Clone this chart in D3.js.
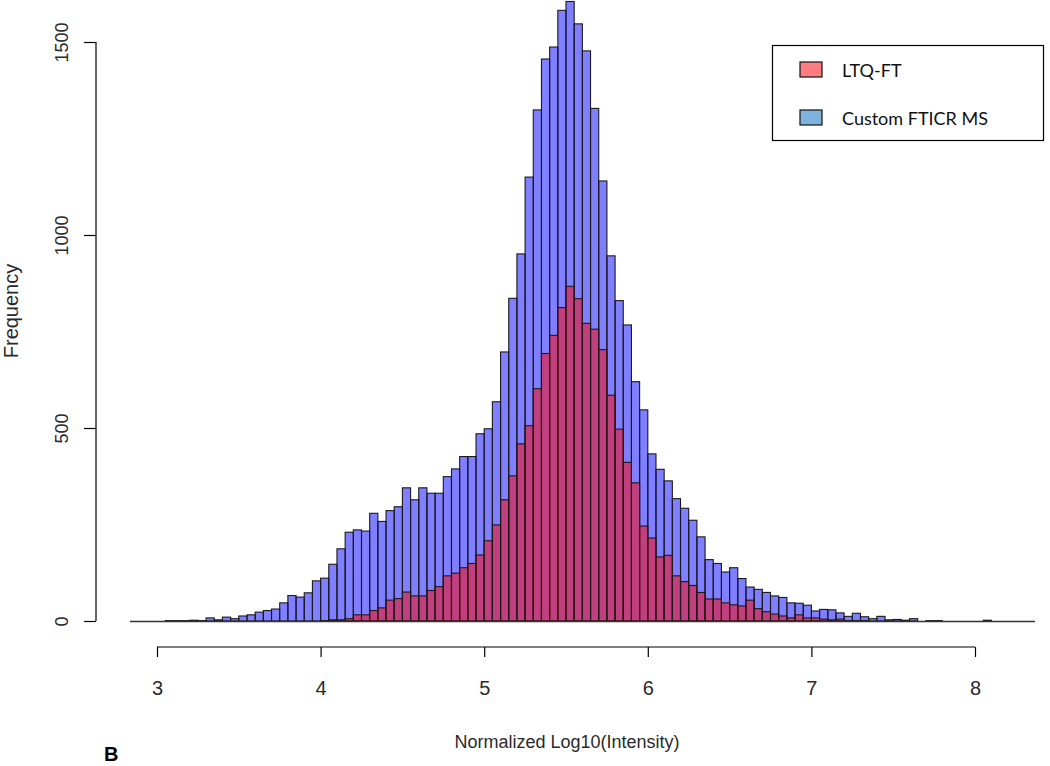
<!DOCTYPE html>
<html><head><meta charset="utf-8">
<script src="https://cdn.jsdelivr.net/npm/d3@7"></script>
<style>body{margin:0;background:#fff}svg{display:block}</style>
</head><body>
<svg id="c" width="1050" height="766"></svg>
<script>
const binStart = 3.05, binWidth = 0.05;
const customCounts = [1,1,1,2,1,8,3,10,6,13,16,23,27,31,47,66,62,73,104,111,
147,187,230,236,233,279,258,286,296,345,314,345,331,331,374,394,426,426,485,498,
568,697,836,951,1150,1324,1456,1487,1582,1605,1547,1477,1328,1140,946,830,767,620,547,433,
393,363,317,292,261,218,159,149,127,138,110,88,82,74,65,61,47,46,41,26,
30,29,21,12,20,11,6,12,3,4,2,6,0,1,1,0,0,0,0,0,2];
const ltqCounts = [0,0,0,0,0,0,0,0,0,0,0,0,0,0,0,0,0,0,0,1,
3,3,6,16,16,27,34,54,58,75,65,65,79,89,117,124,138,149,171,208,
249,314,376,459,506,602,693,740,812,867,835,771,756,703,585,497,411,358,246,215,
166,170,117,102,92,74,57,57,47,42,39,54,32,24,18,13,8,16,8,8,
5,3,5,1,1,1,0,0,0,0,0,0,0,0,0,0,0,0,0,0,0];
const xTicks = [3,4,5,6,7,8];
const yTicks = [0,500,1000,1500];
const legendLabels = ["LTQ-FT","Custom FTICR MS"];
const legendColors = ["#ff7c80","#7fb3de"];

const svg = d3.select("#c");
const x = d3.scaleLinear().domain([3,8]).range([157,975]);
const y = d3.scaleLinear().domain([0,1500]).range([621,42]);
const axFont = "'Liberation Sans',Arial,sans-serif";
const txtCol = "#2a2a2a";

function drawBars(counts, fill){
  svg.append("g").selectAll("rect").data(counts).join("rect")
    .attr("x",(d,i)=>x(binStart+i*binWidth))
    .attr("width",(d,i)=>x(binStart+(i+1)*binWidth)-x(binStart+i*binWidth))
    .attr("y",d=>y(d))
    .attr("height",d=>y(0)-y(d))
    .attr("fill",fill)
    .attr("stroke","#1a1a1a")
    .attr("stroke-width",1.1);
}
drawBars(customCounts,"rgba(0,0,255,0.5)");
drawBars(ltqCounts,"rgba(255,0,0,0.5)");

// baseline
svg.append("line").attr("x1",130).attr("x2",1035).attr("y1",y(0)+0.5).attr("y2",y(0)+0.5)
  .attr("stroke","#333").attr("stroke-width",1.5);

// y axis
const ya = svg.append("g").attr("transform","translate(96,0)")
  .call(d3.axisLeft(y).tickValues(yTicks).tickSize(12).tickFormat(d3.format("d")));
ya.select(".domain").attr("stroke","#000").attr("stroke-width",1.2).attr("d","M0,"+y(0)+"V"+y(1500));
ya.selectAll(".tick line").attr("stroke","#000").attr("stroke-width",1.2);
ya.selectAll(".tick text").attr("transform","rotate(-90)").attr("x",0).attr("y",-28).attr("dy",0)
  .attr("text-anchor","middle").attr("font-family",axFont).attr("font-size",18).attr("fill",txtCol);

// x axis
const xa = svg.append("g").attr("transform","translate(0,647)")
  .call(d3.axisBottom(x).tickValues(xTicks).tickSize(10).tickFormat(d3.format("d")));
xa.select(".domain").attr("stroke","#000").attr("stroke-width",1.2).attr("d","M"+x(3)+",0H"+x(8));
xa.selectAll(".tick line").attr("stroke","#000").attr("stroke-width",1.2);
xa.selectAll(".tick text").attr("y",48).attr("dy",0).attr("font-family",axFont).attr("font-size",20).attr("fill",txtCol);

// titles
svg.append("text").attr("x",567).attr("y",748).attr("text-anchor","middle")
  .attr("font-family",axFont).attr("font-size",18).attr("fill",txtCol).text("Normalized Log10(Intensity)");
svg.append("text").attr("transform","translate(18,311) rotate(-90)").attr("text-anchor","middle")
  .attr("font-family",axFont).attr("font-size",20).attr("fill",txtCol).text("Frequency");
svg.append("text").attr("x",104).attr("y",761).attr("font-family","'Liberation Sans',Arial,sans-serif")
  .attr("font-weight","bold").attr("font-size",20).attr("fill","#000").text("B");

// legend
const lg = svg.append("g");
lg.append("rect").attr("x",772.5).attr("y",45.5).attr("width",271).attr("height",95)
  .attr("fill","#fff").attr("stroke","#000").attr("stroke-width",1.2);
legendLabels.forEach((t,i)=>{
  const cy = 70 + i*48;
  lg.append("rect").attr("x",800).attr("y",cy-8).attr("width",22).attr("height",15)
    .attr("fill",legendColors[i]).attr("stroke","#111").attr("stroke-width",1.2);
  lg.append("text").attr("x",842).attr("y",cy+7).attr("font-family","Lato,'Open Sans',sans-serif")
    .attr("font-size",18).attr("fill","#111").text(t);
});
</script>
</body></html>
